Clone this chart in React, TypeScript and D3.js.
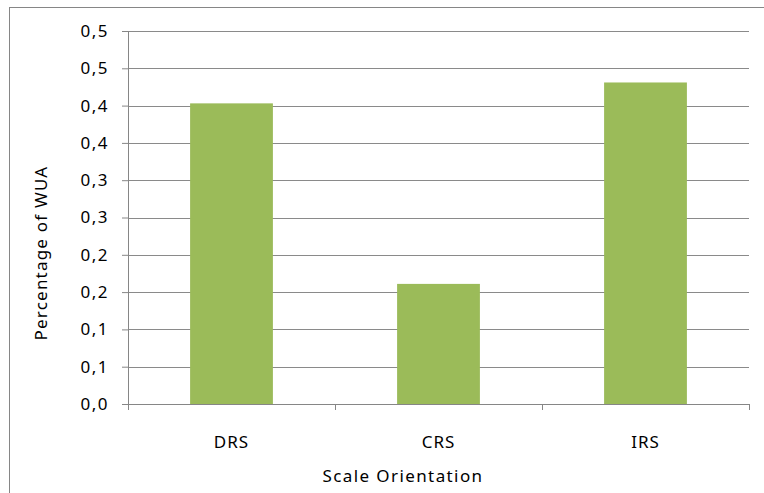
import React, { useEffect, useRef } from 'react';
import * as d3 from 'd3';

const categories = ['DRS', 'CRS', 'IRS'];
const wuaValues = [0.403, 0.161, 0.431];
const tickValues = [0, 0.05, 0.1, 0.15, 0.2, 0.25, 0.3, 0.35, 0.4, 0.45, 0.5];
const tickLabels = ['0,0', '0,1', '0,1', '0,2', '0,2', '0,3', '0,3', '0,4', '0,4', '0,5', '0,5'];

const margin = { top: 31, right: 15, bottom: 89, left: 128 };
const width = 764;
const height = 493;
const font = '"Noto Sans", "Open Sans", sans-serif';

export default function App() {
  const ref = useRef<SVGSVGElement>(null);

  useEffect(() => {
    const svg = d3.select(ref.current);
    svg.selectAll('*').remove();

    const innerW = width - margin.left - margin.right;
    const innerH = height - margin.top - margin.bottom;

    // outer chart border
    svg.append('rect')
      .attr('x', 9.5).attr('y', 7.5)
      .attr('width', 800).attr('height', 600)
      .attr('fill', 'none').attr('stroke', '#868686');

    const x = d3.scaleBand().domain(categories).range([0, innerW])
      .paddingInner(0.6).paddingOuter(0.3);
    const y = d3.scaleLinear().domain([0, 0.5]).range([innerH, 0]);

    const g = svg.append('g').attr('transform', `translate(${margin.left},${margin.top})`);

    // gridlines
    g.selectAll('.grid')
      .data(tickValues.slice(1))
      .enter().append('line')
      .attr('x1', 0).attr('x2', innerW)
      .attr('y1', d => Math.round(y(d)) + 0.5).attr('y2', d => Math.round(y(d)) + 0.5)
      .attr('stroke', '#8a8a8a').attr('stroke-width', 1);

    // bars
    g.selectAll('.bar')
      .data(wuaValues)
      .enter().append('rect')
      .attr('x', (d, i) => x(categories[i]))
      .attr('y', d => y(d))
      .attr('width', x.bandwidth())
      .attr('height', d => innerH - y(d))
      .attr('fill', '#9bbb59');

    // y axis
    const yAxis = g.append('g');
    yAxis.call(d3.axisLeft(y).tickValues(tickValues).tickSize(6)
      .tickFormat((d, i) => tickLabels[i]));
    yAxis.select('.domain').attr('stroke', '#868686').attr('d', `M0.5,0V${innerH + 6}`);
    yAxis.selectAll('.tick line').attr('stroke', '#868686');
    yAxis.selectAll('.tick text')
      .attr('x', -19)
      .attr('fill', '#000')
      .style('font-family', font).style('font-size', '17px').style('letter-spacing', '1.5px');

    // x axis
    const xAxis = g.append('g').attr('transform', `translate(0,${innerH})`);
    xAxis.call(d3.axisBottom(x).tickSize(0));
    xAxis.select('.domain').attr('stroke', '#868686').attr('d', `M0,0.5H${innerW}`);
    xAxis.selectAll('.tick text')
      .attr('y', 44).attr('dy', 0)
      .attr('fill', '#000')
      .style('font-family', font).style('font-size', '17px').style('letter-spacing', '1px');
    const step = x.step();
    xAxis.selectAll('.sep')
      .data(d3.range(categories.length + 1))
      .enter().append('line')
      .attr('x1', i => Math.round(i * step) + 0.5).attr('x2', i => Math.round(i * step) + 0.5)
      .attr('y1', 0).attr('y2', 6)
      .attr('stroke', '#868686');

    // axis titles
    svg.append('text')
      .attr('x', 403).attr('y', 482)
      .attr('text-anchor', 'middle')
      .style('font-family', font).style('font-size', '17px').style('letter-spacing', '1.4px')
      .text('Scale Orientation');

    svg.append('text')
      .attr('transform', 'translate(47,253) rotate(-90)')
      .attr('text-anchor', 'middle')
      .style('font-family', font).style('font-size', '17px').style('letter-spacing', '1.2px')
      .text('Percentage of WUA');
  }, []);

  return (
    <svg ref={ref} width={width} height={height}
      style={{ position: 'absolute', left: 0, top: 0, background: '#fff' }} />
  );
}
